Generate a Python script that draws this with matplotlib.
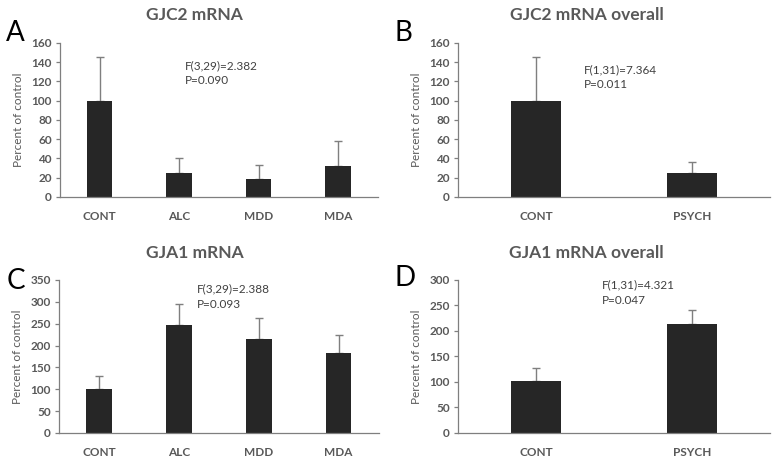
import numpy as np
import matplotlib.pyplot as plt

plt.rcParams['font.family'] = ['Lato', 'DejaVu Sans']

# panel data
groups4 = ['CONT', 'ALC', 'MDD', 'MDA']
groups2 = ['CONT', 'PSYCH']

gjc2_means = [100, 25, 19, 32]
gjc2_err = [45, 15, 14, 26]
gjc2_all_means = [100, 25]
gjc2_all_err = [45, 11]

gja1_means = [100, 248, 215, 183]
gja1_err = [30, 47, 47, 42]
gja1_all_means = [101, 213]
gja1_all_err = [27, 28]

titles = ['GJC2 mRNA', 'GJC2 mRNA overall', 'GJA1 mRNA', 'GJA1 mRNA overall']
letters = ['A', 'B', 'C', 'D']
stats = ['F(3,29)=2.382\nP=0.090', 'F(1,31)=7.364\nP=0.011',
         'F(3,29)=2.388\nP=0.093', 'F(1,31)=4.321\nP=0.047']

GRAY = '#595959'
BAR = '#262626'
ERR = '#7f7f7f'

fig = plt.figure(figsize=(7.79, 4.62), dpi=100)

panels = [
    # axes rect, labels, means, errs, ymax, ystep, stat position
    ([0.077, 0.574, 0.408, 0.333], groups4, gjc2_means, gjc2_err, 160, 20, (1.07, 142)),
    ([0.588, 0.574, 0.400, 0.333], groups2, gjc2_all_means, gjc2_all_err, 160, 20, (0.31, 138)),
    ([0.076, 0.063, 0.410, 0.331], groups4, gja1_means, gja1_err, 350, 50, (1.23, 342)),
    ([0.588, 0.063, 0.400, 0.331], groups2, gja1_all_means, gja1_all_err, 300, 50, (0.42, 301)),
]
title_pos = [(0.25, 0.968), (0.753, 0.968), (0.25, 0.452), (0.753, 0.452)]
letter_pos = [(0.008, 0.928), (0.507, 0.928), (0.008, 0.392), (0.507, 0.398)]

for i, (rect, cats, means, errs, ymax, ystep, spos) in enumerate(panels):
    ax = fig.add_axes(rect)
    x = np.arange(len(cats))
    ax.bar(x, means, width=0.32, color=BAR, zorder=2)
    ax.errorbar(x, means, yerr=[np.zeros(len(errs)), errs], fmt='none',
                ecolor=ERR, elinewidth=1, capsize=3, capthick=1, zorder=1)
    ax.set_xlim(-0.5, len(cats) - 0.5)
    ax.set_ylim(0, ymax)
    ax.set_yticks(np.arange(0, ymax + 1, ystep))
    ax.set_xticks(x)
    ax.set_xticklabels(cats)
    for s in ['top', 'right']:
        ax.spines[s].set_visible(False)
    for s in ['left', 'bottom']:
        ax.spines[s].set_color('#7f7f7f')
        ax.spines[s].set_linewidth(0.9)
    ax.tick_params(axis='y', length=3, width=0.9, color='#7f7f7f',
                   labelsize=8.5, labelcolor=GRAY, pad=3)
    ax.tick_params(axis='x', length=0, labelsize=8.5, labelcolor=GRAY, pad=10)
    for lab in ax.get_xticklabels() + ax.get_yticklabels():
        lab.set_fontweight('bold')
    ax.set_ylabel('Percent of control', fontsize=8.5, color=GRAY, labelpad=5)
    ax.text(spos[0], spos[1], stats[i], fontsize=8.5, color='#404040',
            va='top', ha='left', linespacing=1.45)
    fig.text(title_pos[i][0], title_pos[i][1], titles[i], fontsize=12.5,
             fontweight='bold', color=GRAY, ha='center', va='center')
    fig.text(letter_pos[i][0], letter_pos[i][1], letters[i], fontsize=20,
             color='black', ha='left', va='center')

fig.savefig('out.png', dpi=100)
